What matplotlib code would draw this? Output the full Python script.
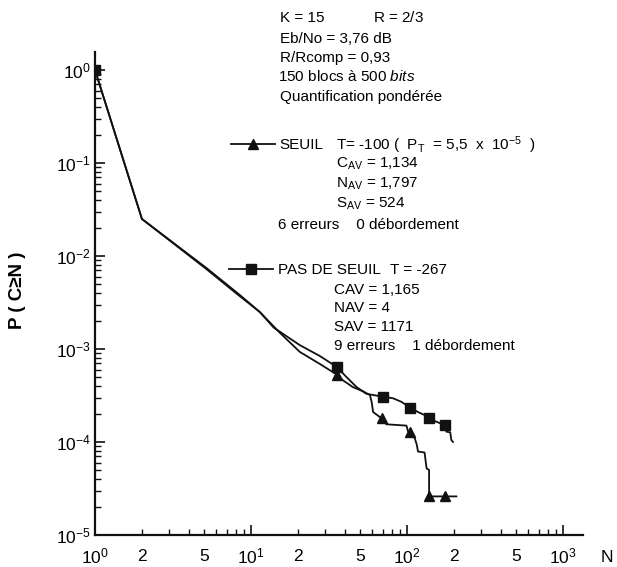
import matplotlib
matplotlib.use("Agg")
import matplotlib.pyplot as plt
from matplotlib.lines import Line2D
from matplotlib.ticker import LogLocator, FuncFormatter, NullFormatter
import numpy as np

plt.rcParams['font.family'] = ['Liberation Sans', 'DejaVu Sans']
plt.rcParams['mathtext.fontset'] = 'custom'
plt.rcParams['mathtext.rm'] = 'Liberation Sans'
plt.rcParams['mathtext.it'] = 'Liberation Sans:italic'
plt.rcParams['mathtext.bf'] = 'Liberation Sans:bold'

# ---- data ----
n_seuil = [1, 2, 5.2, 8.5, 11.4, 15.3, 20.6, 27.7, 35.6, 39, 45, 52.5, 58, 59.5,
           60.8, 68.8, 74, 99.5, 102, 105, 112.5, 116, 118, 130, 134, 139, 139, 175, 208]
p_seuil = [1.0, 0.025, 0.0074, 0.0038, 0.0025, 0.0015, 9.3e-4, 6.9e-4, 5.3e-4, 4.6e-4,
           3.9e-4, 3.5e-4, 3.2e-4, 2.7e-4, 2.1e-4, 1.8e-4, 1.55e-4, 1.5e-4, 1.29e-4,
           1.27e-4, 1.1e-4, 9.3e-5, 7.9e-5, 7.7e-5, 5.2e-5, 5.0e-5, 2.6e-5, 2.6e-5, 2.6e-5]
tri_n = [35.6, 69, 105, 139, 175]
tri_p = [5.3e-4, 1.8e-4, 1.27e-4, 2.6e-5, 2.6e-5]

n_pas = [1, 2, 5.2, 8.0, 11.4, 14, 20.6, 27.7, 35.6, 41, 47.6, 55, 60.8, 70.5, 81.7,
         92.5, 105, 118, 130, 139, 155, 175, 179.6, 190, 193, 198]
p_pas = [1.0, 0.025, 0.0072, 0.0040, 0.0025, 0.0017, 1.1e-3, 8.4e-4, 6.4e-4, 5.0e-4,
         3.9e-4, 3.3e-4, 3.2e-4, 3.07e-4, 2.95e-4, 2.7e-4, 2.34e-4, 2.1e-4, 1.95e-4,
         1.8e-4, 1.65e-4, 1.52e-4, 1.29e-4, 1.27e-4, 1.05e-4, 1.0e-4]
sq_n = [1, 35.6, 70.5, 105, 139, 175]
sq_p = [1.0, 6.4e-4, 3.07e-4, 2.34e-4, 1.8e-4, 1.52e-4]

W, H = 617, 567
fig = plt.figure(figsize=(W / 100, H / 100), dpi=100)
ax = fig.add_axes([95 / W, (H - 535) / H, (583 - 95) / W, (535 - 52) / H])

lc = '#111111'
ax.plot(n_seuil, p_seuil, color=lc, lw=1.3)
ax.plot(n_pas, p_pas, color=lc, lw=1.3)
ax.plot(tri_n, tri_p, ls='none', marker='^', ms=7.5, color=lc)
ax.plot(sq_n, sq_p, ls='none', marker='s', ms=7, color=lc)

ax.set_xscale('log')
ax.set_yscale('log')
ax.set_xlim(1, 1350)
ax.set_ylim(1e-5, 1.56)

for s in ['top', 'right']:
    ax.spines[s].set_visible(False)
for s in ['left', 'bottom']:
    ax.spines[s].set_linewidth(1.6)
    ax.spines[s].set_color(lc)

ax.xaxis.set_major_locator(LogLocator(base=10, numticks=10))
ax.xaxis.set_minor_locator(LogLocator(base=10, subs=np.arange(2, 10), numticks=20))
ax.yaxis.set_major_locator(LogLocator(base=10, numticks=10))
ax.yaxis.set_minor_locator(LogLocator(base=10, subs=np.arange(2, 10), numticks=20))

dec_fmt = FuncFormatter(lambda v, p: r'$10^{%d}$' % int(round(np.log10(v))))
def minor_x(v, p):
    m = v / 10 ** np.floor(np.log10(v) + 1e-9)
    m = int(round(m))
    return str(m) if m in (2, 5) else ''
ax.xaxis.set_major_formatter(dec_fmt)
ax.xaxis.set_minor_formatter(FuncFormatter(minor_x))
ax.yaxis.set_major_formatter(dec_fmt)
ax.yaxis.set_minor_formatter(NullFormatter())

ax.tick_params(axis='both', which='both', direction='in', color=lc, labelsize=12.5)
ax.tick_params(axis='both', which='major', length=7, width=1.2)
ax.tick_params(axis='both', which='minor', length=4, width=1.0)
ax.tick_params(axis='x', which='major', pad=8)
ax.tick_params(axis='x', which='minor', pad=10)
ax.tick_params(axis='y', which='both', pad=3)

fig.text(18 / W, 1 - 290 / H, 'P ( C≥N )', rotation=90, ha='center', va='center',
         fontsize=13.5, fontweight='bold')
fig.text(607 / W, 1 - 558 / H, 'N', ha='center', va='center', fontsize=12.5)

fs = 11
def t(x, y, s, **kw):
    fig.text(x / W, 1 - y / H, s, ha='left', va='center', fontsize=fs, **kw)

xt = 280
t(xt, 18, 'K = 15')
t(373, 18, r'R = $\mathit{2/3}$')
t(xt, 39, 'Eb/No = 3,76 dB')
t(xt, 58, 'R/Rcomp = 0,93')
t(xt - 2, 77, r'150 blocs à $\mathit{500\ bits}$')
t(xt, 97, 'Quantification pondérée')

h1 = Line2D([], [], color=lc, lw=1.3, marker='^', ms=7)
h2 = Line2D([], [], color=lc, lw=1.3, marker='s', ms=7)
fsize_px = fs * 100 / 72
leg1 = ax.legend([h1], ['SEUIL'], loc='center left', bbox_to_anchor=(231 / W, 1 - 145 / H),
                 bbox_transform=fig.transFigure, frameon=False, borderpad=0, borderaxespad=0,
                 handlelength=44 / fsize_px, handletextpad=0.3, fontsize=fs, numpoints=1)
ax.add_artist(leg1)
leg2 = ax.legend([h2], ['PAS DE SEUIL'], loc='center left', bbox_to_anchor=(229 / W, 1 - 270 / H),
                 bbox_transform=fig.transFigure, frameon=False, borderpad=0, borderaxespad=0,
                 handlelength=44 / fsize_px, handletextpad=0.3, fontsize=fs, numpoints=1)

x1 = 336
t(x1, 145, r'T= -100 (  P$_{\mathregular{T}}$  = 5,5  x  10$^{\mathregular{-5}}$  )')
t(x1, 164, r'C$_{\mathregular{AV}}$ = 1,134')
t(x1, 184, r'N$_{\mathregular{AV}}$ = 1,797')
t(x1, 204, r'S$_{\mathregular{AV}}$ = 524')
t(278, 225, '6 erreurs    0 débordement')

t(390, 270, 'T = -267')
x2 = 334
t(x2, 290, 'CAV = 1,165')
t(x2, 308, 'NAV = 4')
t(x2, 327, 'SAV = 1171')
t(x2, 346, '9 erreurs    1 débordement')

fig.savefig('out.png', dpi=100)
